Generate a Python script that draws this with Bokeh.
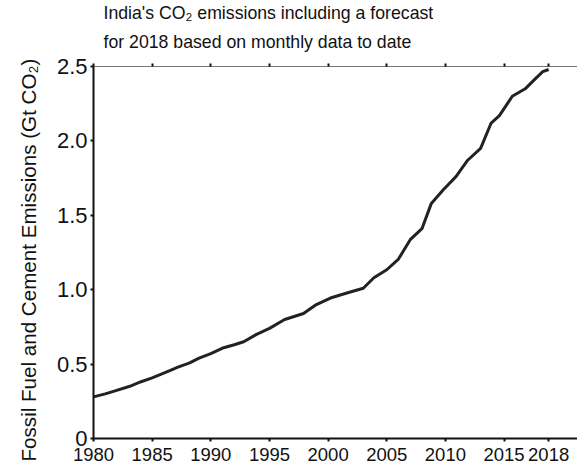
from bokeh.plotting import figure
from bokeh.models import LinearAxis, FixedTicker, Range1d, Title
from bokeh.embed import file_html
from bokeh.resources import INLINE

# Data
times = [1980.0, 1981.0, 1981.7, 1983.1, 1984.0, 1985.0, 1986.3, 1987.2, 1988.2, 1989.0,
         1990.0, 1991.1, 1992.0, 1992.8, 1993.9, 1995.0, 1996.3, 1997.1, 1997.9, 1999.0,
         2000.2, 2001.6, 2003.0, 2003.9, 2005.0, 2006.0, 2007.0, 2008.0, 2008.8, 2009.8,
         2010.9, 2011.9, 2013.0, 2013.9, 2014.6, 2015.7, 2016.8, 2017.7, 2018.3, 2018.8]
emissions = [0.28, 0.30, 0.317, 0.351, 0.38, 0.407, 0.45, 0.48, 0.508, 0.54,
             0.57, 0.61, 0.63, 0.65, 0.70, 0.74, 0.80, 0.82, 0.84, 0.90,
             0.944, 0.978, 1.01, 1.08, 1.134, 1.206, 1.336, 1.41, 1.58, 1.67,
             1.76, 1.87, 1.95, 2.12, 2.17, 2.30, 2.35, 2.42, 2.465, 2.48]

x_tick_positions = [1980, 1985, 1990, 1995, 2000, 2005, 2010, 2015, 2018.8]
x_tick_labels = ["1980", "1985", "1990", "1995", "2000", "2005", "2010", "2015", "2018"]
y_ticks = [0, 0.5, 1.0, 1.5, 2.0, 2.5]
y_tick_labels = ["0", "0.5", "1.0", "1.5", "2.0", "2.5"]

title_line1 = "India's CO\u2082 emissions including a forecast"
title_line2 = "for 2018 based on monthly data to date"
y_label = "Fossil Fuel and Cement Emissions (Gt CO\u2082)"

FONT = "Liberation Sans"

p = figure(frame_width=484, frame_height=372,
           x_range=Range1d(1980, 2021.26), y_range=Range1d(0, 2.5),
           output_backend="svg", toolbar_location=None,
           x_axis_location=None, y_axis_location=None,
           min_border_left=92, min_border_right=0, min_border_top=66, min_border_bottom=26)

p.title.text = title_line1
p.title.text_font = FONT
p.title.text_font_size = "17.7px"
p.title.text_font_style = "normal"
p.title.text_color = "#111111"
p.title.align = "left"
p.title.offset = 10
p.title.standoff = -10

p.grid.visible = False
p.outline_line_color = None
p.background_fill_color = "white"
p.border_fill_color = "white"

xt = FixedTicker(ticks=x_tick_positions, minor_ticks=[])
yt = FixedTicker(ticks=y_ticks, minor_ticks=[])

bottom = LinearAxis(ticker=xt)
bottom.major_label_overrides = {k: v for k, v in zip(x_tick_positions, x_tick_labels)}
bottom.axis_line_width = 2
bottom.axis_line_color = "#111111"
bottom.major_tick_line_width = 2
bottom.major_tick_line_color = "#111111"
bottom.major_tick_out = 3
bottom.major_tick_in = 0
bottom.major_label_standoff = 6
bottom.major_label_text_font = FONT
bottom.major_label_text_font_size = "18.5px"
bottom.major_label_text_color = "#111111"
p.add_layout(bottom, "below")

left = LinearAxis(ticker=yt)
left.major_label_overrides = {k: v for k, v in zip(y_ticks, y_tick_labels)}
left.axis_line_width = 2
left.axis_line_color = "#111111"
left.major_tick_line_width = 2
left.major_tick_line_color = "#111111"
left.major_tick_out = 3
left.major_tick_in = 0
left.major_label_standoff = 3
left.major_label_text_font = FONT
left.major_label_text_font_size = "22px"
left.major_label_text_color = "#111111"
p.add_layout(left, "left")

ylab = Title(text=y_label, align="left", offset=-23, standoff=28,
             text_font=FONT, text_font_size="20.6px", text_font_style="normal",
             text_color="#111111")
p.add_layout(ylab, "left")

top = LinearAxis(ticker=xt)
top.axis_line_width = 1
top.axis_line_color = "#777777"
top.major_tick_line_width = 2
top.major_tick_line_color = "#111111"
top.major_tick_out = 3
top.major_tick_in = 0
top.major_label_text_color = None
top.major_label_text_font_size = "1px"
top.major_label_standoff = 0
p.add_layout(top, "above")

sub = Title(text=title_line2, align="left", offset=10, standoff=24,
            text_font=FONT, text_font_size="17.7px", text_font_style="normal",
            text_color="#111111")
p.add_layout(sub, "above")

p.line(times, emissions, line_width=3, line_color="#222222", line_join="round")

open("out.html", "w").write(file_html(p, INLINE))
